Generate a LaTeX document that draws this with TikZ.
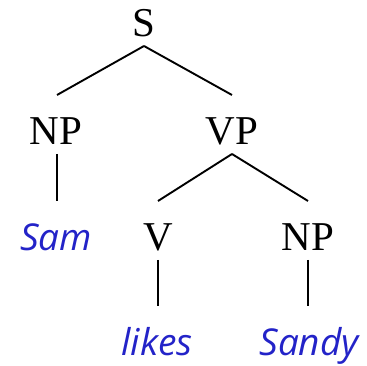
\documentclass[tikz,border=0pt]{standalone}
\usepackage{fontspec}
\setmainfont{Liberation Serif}
\newfontfamily\leaffont{Open Sans}
\definecolor{leafblue}{RGB}{35,35,200}
\begin{document}
\begin{tikzpicture}[x=1pt,y=1pt,
  cat/.style={inner sep=0pt, anchor=base, font=\fontsize{41}{41}\selectfont},
  word/.style={inner sep=0pt, anchor=base, text=leafblue, font=\leaffont\itshape\fontsize{37}{37}\selectfont},
  branch/.style={line width=1.9pt}]
\useasboundingbox (0,0) rectangle (367,366);
% categories (baselines measured from the top edge)
\node[cat] (S)   at (144,366-37)  {S};
\node[cat] (NP)  at (56,366-145)  {NP};
\node[cat] (VP)  at (232,366-145) {VP};
\node[cat] (V)   at (158,366-251) {V};
\node[cat] (NP2) at (308,366-251) {NP};
% words
\node[word] (Sam)   at (56,366-251)  {Sam};
\node[word] (likes) at (157,366-356) {likes};
\node[word] (Sandy) at (309,366-356) {Sandy};
% attachment points above and below each label
\foreach \n in {S,NP,VP,V,NP2} {
  \coordinate (\n-dn) at ([yshift=-9pt]\n.base);
}
\foreach \n in {NP,VP,V,NP2,Sam,likes,Sandy} {
  \coordinate (\n-up) at ([yshift=50pt]\n.base);
}
% branches
\draw[branch] (S-dn) -- ([xshift=1pt]NP-up);
\draw[branch] (S-dn) -- (VP-up);
\draw[branch] ([xshift=1pt]NP-dn) -- ([xshift=1pt]Sam-up);
\draw[branch] (VP-dn) -- (V-up);
\draw[branch] (VP-dn) -- (NP2-up);
\draw[branch] (V-dn) -- ([xshift=1pt]likes-up);
\draw[branch] (NP2-dn) -- ([xshift=-1pt]Sandy-up);
\end{tikzpicture}
\end{document}
